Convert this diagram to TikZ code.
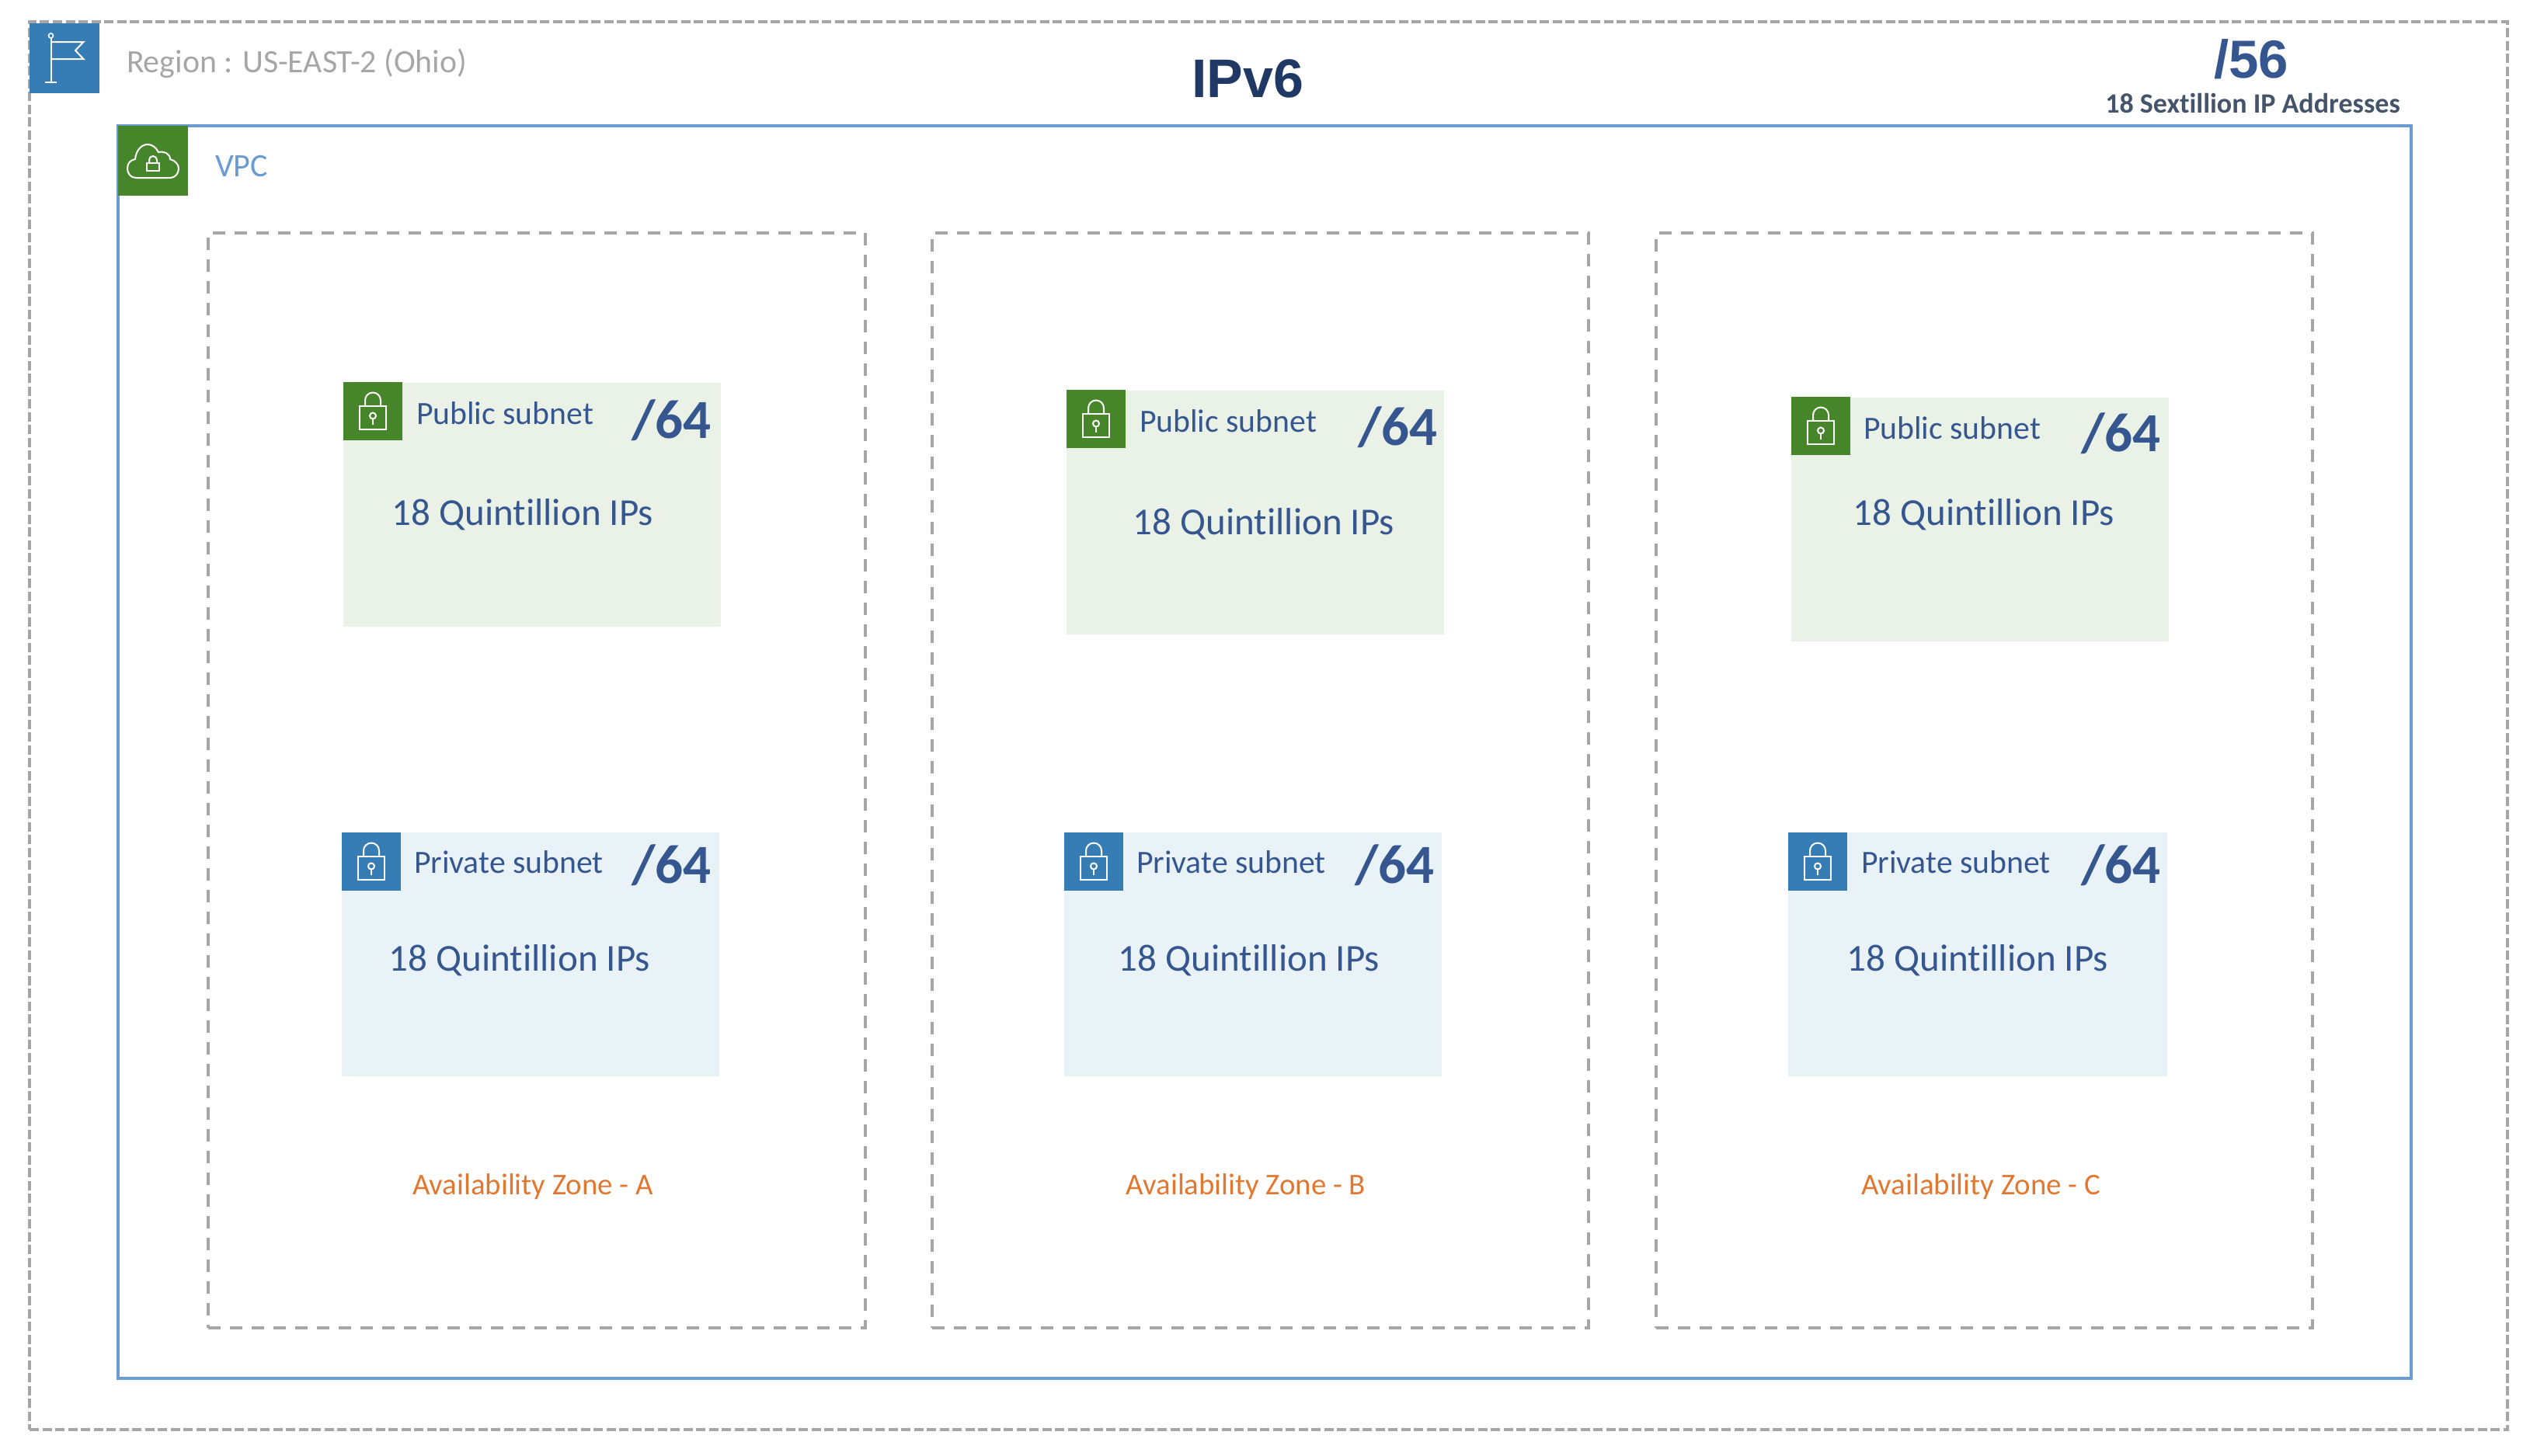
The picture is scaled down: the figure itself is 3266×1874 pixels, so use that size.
\documentclass[tikz,border=0pt]{standalone}
\usepackage{fontspec}
\setmainfont[Ligatures={TeX,NoCommon}]{Carlito}
\newfontfamily\titlefont{Liberation Sans}
\usepackage{tikz}
\definecolor{ruleGray}{HTML}{A6A6A6}
\definecolor{vpcBlue}{HTML}{6A9BD2}
\definecolor{awsGreen}{HTML}{47852B}
\definecolor{awsBlue}{HTML}{377DB5}
\definecolor{pubFill}{HTML}{EAF2E7}
\definecolor{privFill}{HTML}{E8F2F7}
\definecolor{inkBlue}{HTML}{35568F}
\definecolor{titleInk}{HTML}{203864}
\definecolor{slateInk}{HTML}{44546A}
\definecolor{zoneOrange}{HTML}{E2772F}
\tikzset{
  figbox/.style={rectangle, outer sep=0pt, inner sep=0pt, anchor=north west},
  regionbox/.style={figbox, draw=ruleGray, line width=3.5pt, dash pattern=on 12pt off 4.5pt},
  zonebox/.style={figbox, draw=ruleGray, line width=4pt, dash pattern=on 16pt off 12pt},
  vpcbox/.style={figbox, draw=vpcBlue, line width=3.5pt},
  pubbox/.style={figbox, fill=pubFill, minimum width=486pt, minimum height=314pt},
  privbox/.style={figbox, fill=privFill, minimum width=486pt, minimum height=314pt},
  iconbox/.style={figbox, minimum width=90pt, minimum height=90pt},
  lockbox/.style={figbox, minimum width=76pt, minimum height=75pt},
  figlabel/.style={inner sep=0pt, outer sep=0pt, anchor=base west},
  sublabel/.style={figlabel, text=inkBlue, font=\fontsize{41.7}{44}\selectfont},
  ipslabel/.style={inner sep=0pt, anchor=base, text=inkBlue, font=\fontsize{49}{54}\selectfont},
  masklabel/.style={inner sep=0pt, anchor=base east, text=inkBlue, font=\fontsize{71}{78}\selectfont\bfseries},
  zonelabel/.style={inner sep=0pt, anchor=base, text=zoneOrange, font=\fontsize{38.8}{42}\selectfont},
  pics/lockicon/.style={code={
    \draw[white, line width=2pt] (-17,-7) rectangle (17,23);
    \draw[white, line width=2pt] (-10,-7) -- (-10,-14) arc[start angle=180, end angle=360, radius=10] -- (10,-7);
    \draw[white, line width=2pt] (0,6) circle (4);
    \draw[white, line width=2pt] (0,10) -- (0,17);
  }},
}
\begin{document}
\begin{tikzpicture}[x=1pt, y=-1pt]
  \useasboundingbox (0,0) rectangle (3266,1874);
  % outer frames
  \node[regionbox, minimum width=3190pt, minimum height=1813pt] (region) at (38,28) {};
  \node[vpcbox, minimum width=2952pt, minimum height=1613pt] (vpc) at (152,162) {};
  \node[iconbox, fill=awsBlue] (regionicon) at (38,30) {};
  \node[iconbox, fill=awsGreen] (vpcicon) at (152,162) {};
  % flag
  \draw[white, line width=2pt] ([shift={(-17.5,-26)}]regionicon.center) -- ([shift={(-17.5,31)}]regionicon.center);
  \draw[white, line width=1.6pt] ([shift={(-17.5,-29)}]regionicon.center) circle (3);
  \draw[white, line width=2pt] ([shift={(-25,31)}]regionicon.center) -- ([shift={(-10,31)}]regionicon.center);
  \draw[white, line width=2pt, line join=miter] ([shift={(-17.5,-21)}]regionicon.center) -- ([shift={(24.5,-21)}]regionicon.center)
    -- ([shift={(14,-10)}]regionicon.center) -- ([shift={(24.5,1)}]regionicon.center) -- ([shift={(-17.5,1)}]regionicon.center);
  % cloud
  \begin{scope}[shift={(vpcicon.center)}]
    \draw[white, line width=2pt] (-22,22) .. controls (-29,22) and (-33,16) .. (-33,10)
      .. controls (-33,3) and (-29,-1) .. (-23,-2)
      .. controls (-22,-13) and (-15,-21) .. (-7,-21)
      .. controls (-1,-21) and (4,-17) .. (7,-11)
      .. controls (14,-13) and (22,-9) .. (22,-2)
      .. controls (29,0) and (33,5) .. (33,10)
      .. controls (33,17) and (28,22) .. (22,22) -- cycle;
    \draw[white, line width=2pt] (-8,3) rectangle (8,13);
    \draw[white, line width=2pt] (-5,3) -- (-5,-1) arc[start angle=180, end angle=360, radius=5] -- (5,3);
  \end{scope}
  \node[figlabel, text=ruleGray, font=\fontsize{41.8}{46}\selectfont] (regionname) at (163,93) {Region : US-EAST-2 (Ohio)};
  \node[figlabel, text=vpcBlue, font=\fontsize{42}{46}\selectfont] (vpcname) at (277,227) {VPC};
  \node[inner sep=0pt, anchor=base, text=titleInk, font=\fontsize{70}{74}\selectfont\titlefont\bfseries] (title) at (1606,125) {IPv6};
  \node[inner sep=0pt, anchor=base, text=inkBlue, font=\fontsize{69}{72}\selectfont\titlefont\bfseries] (vpcmask) at (2898,100) {/56};
  \node[inner sep=0pt, anchor=base, text=slateInk, font=\fontsize{36}{38}\selectfont\bfseries] (vpcips) at (2900,145) {18 Sextillion IP Addresses};
  % availability zones
  \node[zonebox, minimum width=846pt, minimum height=1410pt] (zoneA) at (268,300) {};
  \node[zonebox, minimum width=845pt, minimum height=1410pt] (zoneB) at (1200,300) {};
  \node[zonebox, minimum width=845pt, minimum height=1410pt] (zoneC) at (2132,300) {};
  \node[zonelabel] (zoneAname) at (686,1538) {Availability Zone - A};
  \node[zonelabel] (zoneBname) at (1604,1538) {Availability Zone - B};
  \node[zonelabel] (zoneCname) at (2550,1538) {Availability Zone - C};
  % public subnets
  \node[pubbox] (pubA) at (442,493) {};
  \node[lockbox, fill=awsGreen] (pubAicon) at (442,492) {};
  \pic at (pubAicon.center) {lockicon};
  \node[sublabel] (pubAname) at (536,546) {Public subnet};
  \node[masklabel] (pubAmask) at (916,564) {/64};
  \node[ipslabel] (pubAips) at (673,676) {18 Quintillion IPs};
  \node[pubbox] (pubB) at (1373,503) {};
  \node[lockbox, fill=awsGreen] (pubBicon) at (1373,502) {};
  \pic at (pubBicon.center) {lockicon};
  \node[sublabel] (pubBname) at (1467,556) {Public subnet};
  \node[masklabel] (pubBmask) at (1851,573) {/64};
  \node[ipslabel] (pubBips) at (1627,688) {18 Quintillion IPs};
  \node[pubbox] (pubC) at (2306,512) {};
  \node[lockbox, fill=awsGreen] (pubCicon) at (2306,511) {};
  \pic at (pubCicon.center) {lockicon};
  \node[sublabel] (pubCname) at (2399,565) {Public subnet};
  \node[masklabel] (pubCmask) at (2782,581) {/64};
  \node[ipslabel] (pubCips) at (2554,676) {18 Quintillion IPs};
  % private subnets
  \node[privbox] (privA) at (440,1072) {};
  \node[lockbox, fill=awsBlue] (privAicon) at (440,1072) {};
  \pic at (privAicon.center) {lockicon};
  \node[sublabel] (privAname) at (533,1124) {Private subnet};
  \node[masklabel] (privAmask) at (916,1137) {/64};
  \node[ipslabel] (privAips) at (669,1250) {18 Quintillion IPs};
  \node[privbox] (privB) at (1370,1072) {};
  \node[lockbox, fill=awsBlue] (privBicon) at (1370,1072) {};
  \pic at (privBicon.center) {lockicon};
  \node[sublabel] (privBname) at (1463,1124) {Private subnet};
  \node[masklabel] (privBmask) at (1847,1137) {/64};
  \node[ipslabel] (privBips) at (1608,1250) {18 Quintillion IPs};
  \node[privbox, minimum width=488pt] (privC) at (2302,1072) {};
  \node[lockbox, fill=awsBlue] (privCicon) at (2302,1072) {};
  \pic at (privCicon.center) {lockicon};
  \node[sublabel] (privCname) at (2396,1124) {Private subnet};
  \node[masklabel] (privCmask) at (2782,1137) {/64};
  \node[ipslabel] (privCips) at (2546,1250) {18 Quintillion IPs};
\end{tikzpicture}
\end{document}
